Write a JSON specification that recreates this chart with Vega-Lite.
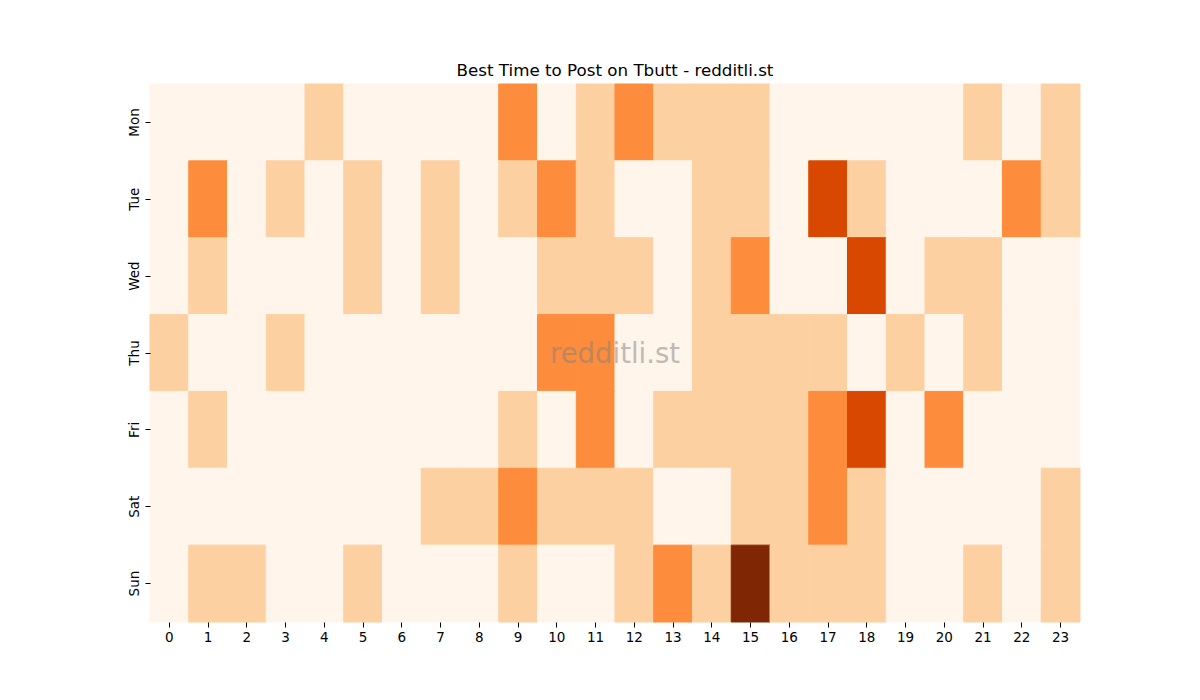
{
  "$schema": "https://vega.github.io/schema/vega-lite/v6.json",
  "width": 930,
  "height": 538,
  "autosize": "none",
  "padding": {"left": 150, "top": 84, "right": 120, "bottom": 78},
  "background": "white",
  "config": {"view": {"stroke": null}, "font": "DejaVu Sans"},
  "title": {"text": "Best Time to Post on Tbutt - redditli.st", "fontSize": 16.7, "fontWeight": "normal", "font": "DejaVu Sans", "color": "black", "offset": 4},
  "datasets": {
    "grid": [
      {"day":"Mon","rows":[0,0,0,0,1,0,0,0,0,2,0,1,2,1,1,1,0,0,0,0,0,1,0,1]},
      {"day":"Tue","rows":[0,2,0,1,0,1,0,1,0,1,2,1,0,0,1,1,0,3,1,0,0,0,2,1]},
      {"day":"Wed","rows":[0,1,0,0,0,1,0,1,0,0,1,1,1,0,1,2,0,0,3,0,1,1,0,0]},
      {"day":"Thu","rows":[1,0,0,1,0,0,0,0,0,0,2,2,0,0,1,1,1,1,0,1,0,1,0,0]},
      {"day":"Fri","rows":[0,1,0,0,0,0,0,0,0,1,0,2,0,1,1,1,1,2,3,0,2,0,0,0]},
      {"day":"Sat","rows":[0,0,0,0,0,0,0,1,1,2,1,1,1,0,0,1,1,2,1,0,0,0,0,1]},
      {"day":"Sun","rows":[0,1,1,0,0,1,0,0,0,1,0,0,1,2,1,4,1,1,1,0,0,1,0,1]}
    ]
  },
  "layer": [
    {
      "data": {"name": "grid"},
      "transform": [
        {"flatten": ["rows"], "as": ["value"]},
        {"window": [{"op": "row_number", "as": "rn"}], "groupby": ["day"]},
        {"calculate": "datum.rn - 1", "as": "hour"}
      ],
      "mark": {"type": "rect", "strokeWidth": 1},
      "encoding": {
        "x": {"field": "hour", "type": "ordinal", "sort": "ascending",
              "scale": {"paddingInner": 0, "paddingOuter": 0},
              "axis": {"title": null, "labelAngle": 0, "labelFontSize": 13.5, "labelColor": "black", "domain": false, "tickColor": "black", "tickSize": 5, "labelPadding": 3, "grid": false}},
        "y": {"field": "day", "type": "ordinal", "sort": ["Mon","Tue","Wed","Thu","Fri","Sat","Sun"],
              "scale": {"paddingInner": 0, "paddingOuter": 0},
              "axis": {"title": null, "labelAngle": -90, "labelAlign": "center", "labelBaseline": "bottom", "labelFontSize": 13.5, "labelColor": "black", "domain": false, "tickColor": "black", "tickSize": 5, "labelPadding": 4, "grid": false}},
        "color": {"field": "value", "type": "ordinal",
                  "scale": {"domain": [0,1,2,3,4], "range": ["#fff5eb","#fdd0a2","#fd8d3c","#d94801","#7f2704"]},
                  "legend": null},
        "stroke": {"field": "value", "type": "ordinal",
                  "scale": {"domain": [0,1,2,3,4], "range": ["#fff5eb","#fdd0a2","#fd8d3c","#d94801","#7f2704"]},
                  "legend": null}
      }
    },
    {
      "data": {"values": [{"hour": 12, "day": "Thu", "label": "redditli.st"}]},
      "mark": {"type": "text", "fontSize": 27.5, "color": "#808080", "opacity": 0.5, "align": "center", "baseline": "middle", "font": "DejaVu Sans", "dy": 2},
      "encoding": {
        "x": {"field": "hour", "type": "ordinal", "bandPosition": 0},
        "y": {"field": "day", "type": "ordinal", "sort": ["Mon","Tue","Wed","Thu","Fri","Sat","Sun"]},
        "text": {"field": "label"}
      }
    }
  ]
}
